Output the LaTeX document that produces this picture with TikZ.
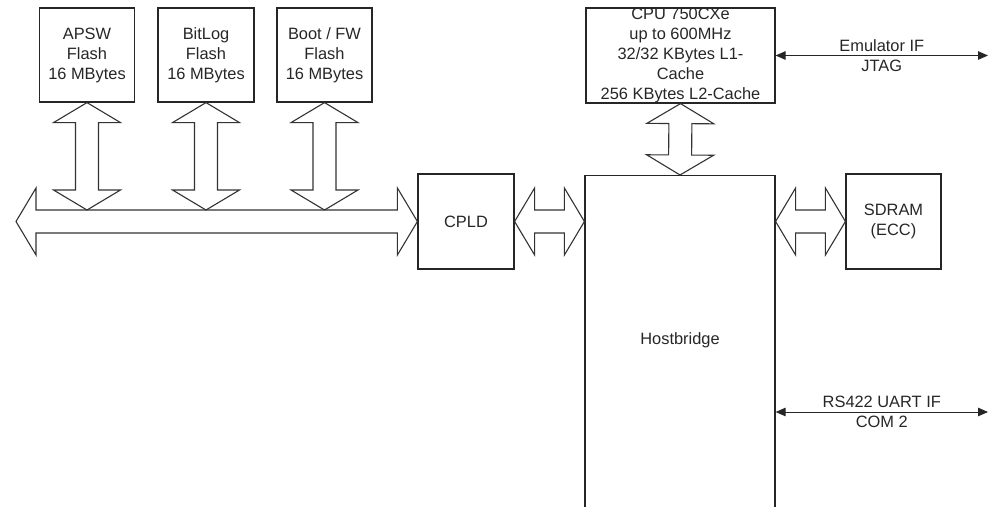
\documentclass[tikz,border=0pt]{standalone}
\usepackage{fontspec}
\setmainfont{Liberation Sans}
\usetikzlibrary{calc,arrows.meta}
\newcommand\blockarr[2]{%
 \draw[barr] (#1) -- ($(#1)!20pt!(#2)!33.5pt!90:(#2)$) -- ($(#1)!20pt!(#2)!11.5pt!90:(#2)$)
  -- ($(#2)!20pt!(#1)!11.5pt!-90:(#1)$) -- ($(#2)!20pt!(#1)!33.5pt!-90:(#1)$) -- (#2)
  -- ($(#2)!20pt!(#1)!33.5pt!90:(#1)$) -- ($(#2)!20pt!(#1)!11.5pt!90:(#1)$)
  -- ($(#1)!20pt!(#2)!11.5pt!-90:(#2)$) -- ($(#1)!20pt!(#2)!33.5pt!-90:(#2)$) -- cycle;}
\begin{document}
\begin{tikzpicture}[x=1pt,y=-1pt,
  txt/.style={font=\fontsize{16.4}{20}\selectfont, align=center, inner sep=0pt, text=black!85},
  box/.style={txt, draw=black!85, line width=1.2pt, minimum width=95, minimum height=94},
  barr/.style={draw=black!80, line width=1.1pt, line join=miter},
  sig/.style={draw=black!85, line width=1pt, {Triangle[length=10pt,width=8.5pt]}-{Triangle[length=10pt,width=8.5pt]}}]
\useasboundingbox (0,0) rectangle (998,506);
% flash boxes
\node[box] (apsw) at (87,55) {APSW\\Flash\\16 MBytes};
\node[box, minimum width=96] (bitlog) at (206,55) {BitLog\\Flash\\16 MBytes};
\node[box] (boot) at (324.5,55) {Boot / FW\\Flash\\16 MBytes};
% CPLD, CPU, hostbridge, SDRAM
\node[box, minimum width=96, minimum height=95] (cpld) at (466,221.5) {CPLD};
\node[box, minimum width=189, minimum height=95] (cpu) at (680.5,55.5) {CPU 750CXe\\up to 600MHz\\32/32 KBytes L1-\\Cache\\256 KBytes L2-Cache};
\node[box, minimum width=190, minimum height=345, anchor=north] (hb) at (680,175) {};
\node[txt] (hbl) at (680,340) {Hostbridge};
\node[box, minimum height=95] (sdram) at (893.5,221.5) {SDRAM\\(ECC)};
% bus
\coordinate (busL) at (16,221.5);
\coordinate (busR) at (cpld.west);
\blockarr{busL}{busR}
\coordinate (b1) at ($(apsw.south |- busL)+(0,-11.5)$);
\coordinate (b2) at ($(bitlog.south |- busL)+(0,-11.5)$);
\coordinate (b3) at ($(boot.south |- busL)+(0,-11.5)$);
\blockarr{apsw.south}{b1}
\blockarr{bitlog.south}{b2}
\blockarr{boot.south}{b3}
% CPLD - hostbridge - SDRAM - CPU
\coordinate (hbw) at (hb.west |- cpld.east);
\coordinate (hbe) at (hb.east |- sdram.west);
\blockarr{cpld.east}{hbw}
\blockarr{hbe}{sdram.west}
\blockarr{cpu.south}{hb.north}
% signal lines
\coordinate (emuR) at (988,55.5);
\draw[sig] (cpu.east) -- node[txt]{Emulator IF\\JTAG} (emuR);
\coordinate (uartL) at (hb.east |- 0,412);
\coordinate (uartR) at (988,412);
\draw[sig] (uartL) -- node[txt]{RS422 UART IF\\COM 2} (uartR);
\end{tikzpicture}
\end{document}
